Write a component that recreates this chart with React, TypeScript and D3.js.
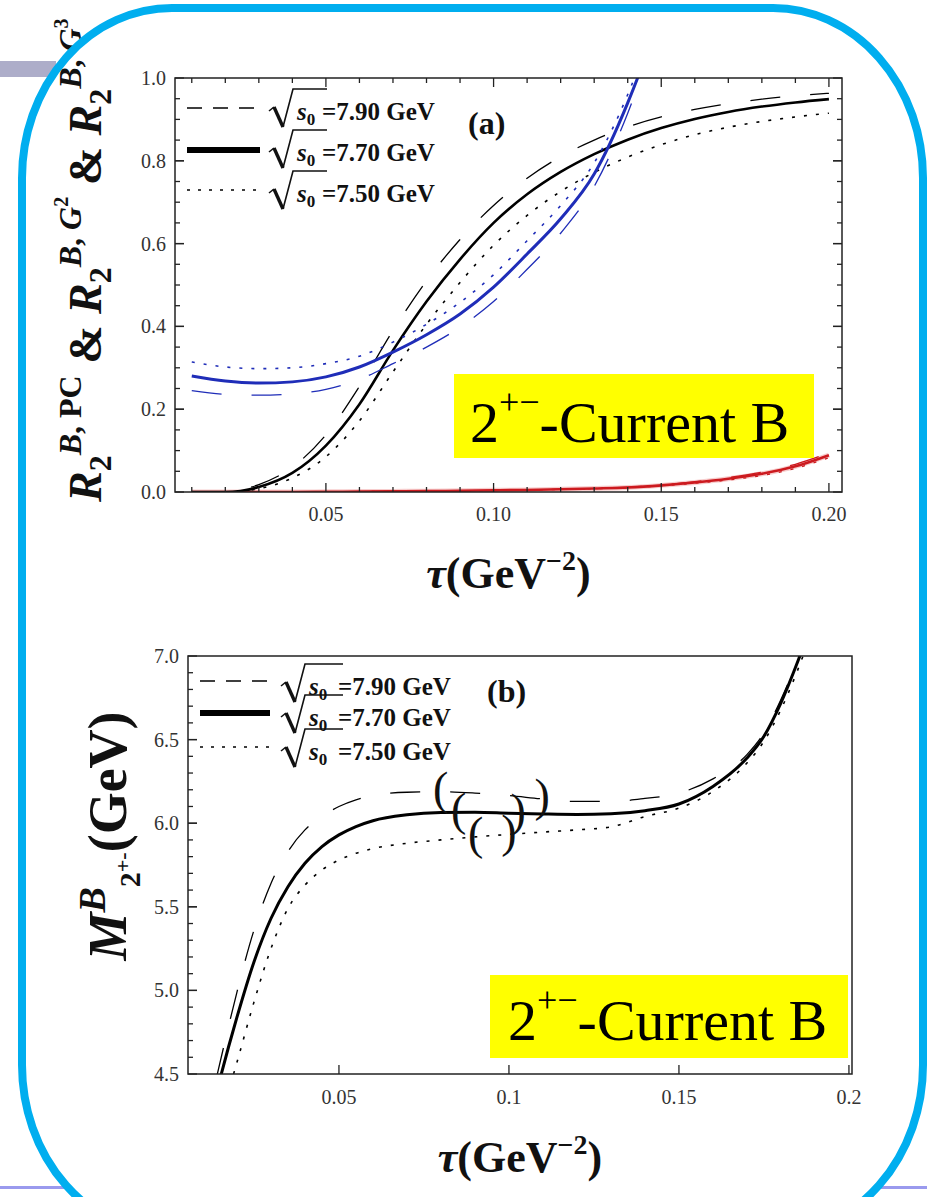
import React from 'react';
import * as d3 from 'd3';

const FONT = "'Liberation Serif', 'Times New Roman', serif";

// ---------- panel (a): ratios vs tau ----------
const tauPC = [0.01, 0.02, 0.03, 0.04, 0.05, 0.06, 0.07, 0.08, 0.09, 0.10, 0.11, 0.12, 0.13, 0.14, 0.15, 0.16, 0.17, 0.18, 0.19, 0.20];
const pcS790 = [0.000, 0.000, 0.018, 0.060, 0.138, 0.255, 0.390, 0.510, 0.610, 0.692, 0.758, 0.810, 0.850, 0.882, 0.906, 0.924, 0.938, 0.949, 0.957, 0.963];
const pcS770 = [0.000, 0.000, 0.012, 0.046, 0.112, 0.212, 0.342, 0.460, 0.562, 0.650, 0.719, 0.773, 0.816, 0.851, 0.879, 0.901, 0.918, 0.931, 0.941, 0.949];
const pcS750 = [0.000, 0.000, 0.008, 0.034, 0.085, 0.172, 0.290, 0.405, 0.506, 0.596, 0.668, 0.726, 0.772, 0.809, 0.839, 0.863, 0.881, 0.895, 0.906, 0.915];

const tauG2 = [0.01, 0.02, 0.03, 0.04, 0.05, 0.06, 0.07, 0.08, 0.09, 0.10, 0.11, 0.12, 0.13, 0.14, 0.145, 0.15];
const g2S790 = [0.245, 0.236, 0.234, 0.237, 0.248, 0.272, 0.310, 0.350, 0.398, 0.460, 0.538, 0.625, 0.738, 0.915, 1.025, 1.150];
const g2S770 = [0.280, 0.268, 0.263, 0.266, 0.278, 0.302, 0.338, 0.380, 0.430, 0.495, 0.575, 0.660, 0.768, 0.940, 1.045, 1.170];
const g2S750 = [0.314, 0.302, 0.298, 0.300, 0.310, 0.328, 0.362, 0.405, 0.458, 0.525, 0.607, 0.692, 0.795, 0.960, 1.065, 1.190];

const tauG3 = [0.01, 0.02, 0.03, 0.04, 0.05, 0.06, 0.07, 0.08, 0.09, 0.10, 0.11, 0.12, 0.13, 0.14, 0.15, 0.16, 0.17, 0.18, 0.19, 0.20];
const g3S790 = [0, 0, 0, 0, 0.0005, 0.001, 0.0015, 0.002, 0.003, 0.0045, 0.0055, 0.007, 0.009, 0.012, 0.017, 0.025, 0.035, 0.048, 0.067, 0.094];
const g3S770 = [0, 0, 0, 0, 0.0005, 0.001, 0.0015, 0.002, 0.003, 0.004, 0.005, 0.0065, 0.0085, 0.011, 0.016, 0.023, 0.032, 0.044, 0.062, 0.089];
const g3S750 = [0, 0, 0, 0, 0.0005, 0.001, 0.0015, 0.002, 0.0025, 0.0035, 0.0045, 0.006, 0.008, 0.010, 0.015, 0.021, 0.029, 0.040, 0.057, 0.083];

const xTicksA = [0.05, 0.10, 0.15, 0.20];
const xTickLabelsA = ['0.05', '0.10', '0.15', '0.20'];
const yTicksA = [0.0, 0.2, 0.4, 0.6, 0.8, 1.0];
const yTickLabelsA = ['0.0', '0.2', '0.4', '0.6', '0.8', '1.0'];

// ---------- panel (b): mass vs tau ----------
const tauM790 = [0.014, 0.017, 0.02, 0.025, 0.03, 0.035, 0.04, 0.045, 0.05, 0.055, 0.06, 0.07, 0.08, 0.09, 0.10, 0.11, 0.12, 0.13, 0.14, 0.15, 0.16, 0.17, 0.175, 0.18, 0.185, 0.19];
const mS790 = [4.48, 4.74, 4.99, 5.36, 5.64, 5.83, 5.96, 6.04, 6.10, 6.14, 6.165, 6.185, 6.188, 6.18, 6.165, 6.145, 6.13, 6.13, 6.148, 6.18, 6.265, 6.41, 6.54, 6.74, 6.98, 7.26];
const tauM770 = [0.015, 0.0175, 0.02, 0.025, 0.03, 0.035, 0.04, 0.045, 0.05, 0.055, 0.06, 0.07, 0.08, 0.09, 0.10, 0.11, 0.12, 0.13, 0.14, 0.15, 0.16, 0.17, 0.175, 0.18, 0.185, 0.19];
const mS770 = [4.47, 4.66, 4.84, 5.17, 5.43, 5.62, 5.76, 5.86, 5.93, 5.98, 6.015, 6.05, 6.064, 6.066, 6.060, 6.055, 6.052, 6.056, 6.075, 6.115, 6.22, 6.39, 6.52, 6.72, 6.97, 7.25];
const tauM750 = [0.019, 0.02, 0.025, 0.03, 0.035, 0.04, 0.045, 0.05, 0.055, 0.06, 0.07, 0.08, 0.09, 0.10, 0.11, 0.12, 0.13, 0.14, 0.15, 0.16, 0.17, 0.175, 0.18, 0.185, 0.19];
const mS750 = [4.50, 4.57, 4.93, 5.25, 5.49, 5.63, 5.72, 5.78, 5.82, 5.848, 5.88, 5.90, 5.918, 5.933, 5.947, 5.96, 5.978, 6.04, 6.09, 6.19, 6.36, 6.49, 6.68, 6.92, 7.20];

// Borel windows marked with parentheses (s0 = 7.90, 7.70, 7.50)
const windowLeft = [0.0799, 0.0852, 0.0902];
const windowRight = [0.1098, 0.1027, 0.1000];

const xTicksB = [0.05, 0.1, 0.15, 0.2];
const xTickLabelsB = ['0.05', '0.1', '0.15', '0.2'];
const yTicksB = [4.5, 5.0, 5.5, 6.0, 6.5, 7.0];
const yTickLabelsB = ['4.5', '5.0', '5.5', '6.0', '6.5', '7.0'];

const s0Labels = ['7.90', '7.70', '7.50'];

// ---------- geometry ----------
const xA = d3.scaleLinear().domain([0.005, 0.2039]).range([175, 842]);
const yA = d3.scaleLinear().domain([0, 1]).range([492, 78]);
const xB = d3.scaleLinear().domain([0.0056, 0.2009]).range([188, 852]);
const yB = d3.scaleLinear().domain([4.5, 7.0]).range([1074, 656]);

const BLUE = '#1f2db8';
const RED = '#cc1a1f';

type Style = { width: number; dash?: string };
const curveStyles: Style[] = [
  { width: 1.3, dash: '30 30' },
  { width: 2.6 },
  { width: 1.6, dash: '3 9' },
];
const legendStyles: Style[] = [
  { width: 1.3, dash: '15 11' },
  { width: 6 },
  { width: 1.6, dash: '3 8' },
];

function pathFor(xs: number[], ys: number[], sx: d3.ScaleLinear<number, number>, sy: d3.ScaleLinear<number, number>) {
  const line = d3
    .line<number>()
    .x((_, i) => sx(xs[i]))
    .y((d) => sy(d))
    .curve(d3.curveMonotoneX);
  return line(ys) || '';
}

function range(a: number, b: number, step: number) {
  const out: number[] = [];
  for (let v = a; v <= b + step / 1000; v += step) out.push(+v.toFixed(4));
  return out;
}

function Radical({ x0, b, xe }: { x0: number; b: number; xe: number }) {
  return (
    <g stroke="#111" fill="none" strokeLinejoin="miter">
      <path d={`M${x0},${b - 9} L${x0 + 5},${b - 13}`} strokeWidth={1.6} />
      <path d={`M${x0 + 5},${b - 13} L${x0 + 14},${b + 7}`} strokeWidth={3.4} />
      <path d={`M${x0 + 14},${b + 7} L${x0 + 24},${b - 31} L${xe},${b - 31}`} strokeWidth={1.6} />
    </g>
  );
}

function Legend({ lx0, lx1, lineY, baseY, radX, overEnd, sX, eqX }: {
  lx0: number; lx1: number; lineY: number[]; baseY: number[]; radX: number; overEnd: number; sX: number; eqX: number;
}) {
  return (
    <g>
      {s0Labels.map((lab, i) => (
        <g key={lab}>
          <line x1={lx0} x2={lx1} y1={lineY[i]} y2={lineY[i]} stroke="#000"
            strokeWidth={legendStyles[i].width} strokeDasharray={legendStyles[i].dash} />
          <Radical x0={radX} b={baseY[i]} xe={overEnd} />
          <text x={sX} y={baseY[i]} fontFamily={FONT} fontWeight="bold" fontSize={25} fill="#111">
            <tspan fontStyle="italic">s</tspan>
            <tspan fontSize={17} dy={5}>0</tspan>
          </text>
          <text x={eqX} y={baseY[i]} fontFamily={FONT} fontWeight="bold" fontSize={25} fill="#111">
            {`=${lab} GeV`}
          </text>
        </g>
      ))}
    </g>
  );
}

function TauTitle({ cx, y }: { cx: number; y: number }) {
  return (
    <text x={cx} y={y} textAnchor="middle" fontFamily={FONT} fontWeight="bold" fontSize={44} fill="#111">
      <tspan fontStyle="italic">τ</tspan>
      <tspan>(GeV</tspan>
      <tspan fontSize={28} dy={-18}>−2</tspan>
      <tspan dy={18}>)</tspan>
    </text>
  );
}

function CurrentTag({ x, y, w, h, tx, ty }: { x: number; y: number; w: number; h: number; tx: number; ty: number }) {
  return (
    <g>
      <rect x={x} y={y} width={w} height={h} fill="#ffff00" />
      <text x={tx} y={ty} fontFamily="Liberation Serif" fontSize={58} fill="#000">
        <tspan>2</tspan>
        <tspan fontSize={36} dy={-28}>+−</tspan>
        <tspan dy={28}>-Current B</tspan>
      </text>
    </g>
  );
}

function PanelA() {
  const [x0, x1] = xA.range();
  const [y0, y1] = yA.range();
  const minorX = range(0.01, 0.20, 0.01);
  const minorY = range(0.05, 0.95, 0.05);
  const pcSeries = [pcS790, pcS770, pcS750];
  const g2Series = [g2S790, g2S770, g2S750];
  const g3Series = [g3S790, g3S770, g3S750];
  return (
    <g>
      <defs>
        <clipPath id="clipA">
          <rect x={x0} y={y1} width={x1 - x0} height={y0 - y1} />
        </clipPath>
      </defs>
      <g clipPath="url(#clipA)" fill="none" strokeLinecap="butt">
        <path d={pathFor(tauG3, g3S770, xA, yA)} stroke="#e87070" strokeWidth={5} opacity={0.35} />
        {g3Series.map((s, i) => (
          <path key={'r' + i} d={pathFor(tauG3, s, xA, yA)} stroke={RED}
            strokeWidth={i === 1 ? 2.6 : 1.3} strokeDasharray={curveStyles[i].dash} />
        ))}
        {pcSeries.map((s, i) => (
          <path key={'k' + i} d={pathFor(tauPC, s, xA, yA)} stroke="#000"
            strokeWidth={curveStyles[i].width} strokeDasharray={curveStyles[i].dash} />
        ))}
        {g2Series.map((s, i) => (
          <path key={'b' + i} d={pathFor(tauG2, s, xA, yA)} stroke={BLUE}
            strokeWidth={i === 1 ? 3 : curveStyles[i].width} strokeDasharray={curveStyles[i].dash} />
        ))}
      </g>
      {/* ticks on all four sides, pointing inward */}
      <g stroke="#222" strokeWidth={1.3}>
        {minorX.map((t) => {
          const major = xTicksA.some((m) => Math.abs(m - t) < 1e-6);
          const len = major ? 9 : 5;
          return (
            <g key={'tx' + t}>
              <line x1={xA(t)} x2={xA(t)} y1={y0} y2={y0 - len} />
              <line x1={xA(t)} x2={xA(t)} y1={y1} y2={y1 + len} />
            </g>
          );
        })}
        {minorY.concat(yTicksA).map((t) => {
          const major = yTicksA.some((m) => Math.abs(m - t) < 1e-6);
          const len = major ? 9 : 5;
          return (
            <g key={'ty' + t}>
              <line x1={x0} x2={x0 + len} y1={yA(t)} y2={yA(t)} />
              <line x1={x1} x2={x1 - len} y1={yA(t)} y2={yA(t)} />
            </g>
          );
        })}
      </g>
      <rect x={x0} y={y1} width={x1 - x0} height={y0 - y1} fill="none" stroke="#222" strokeWidth={1.5} />
      <g fontFamily={FONT} fontSize={20} fill="#333">
        {xTicksA.map((t, i) => (
          <text key={'lx' + t} x={xA(t)} y={521} textAnchor="middle">{xTickLabelsA[i]}</text>
        ))}
        {yTicksA.map((t, i) => (
          <text key={'ly' + t} x={166} y={yA(t) + 7} textAnchor="end">{yTickLabelsA[i]}</text>
        ))}
      </g>
      <TauTitle cx={(x0 + x1) / 2} y={588} />
      {/* y-axis title */}
      <text transform="translate(101,502) rotate(-90)" fontFamily={FONT} fontWeight="bold" fontSize={46} fill="#111">
        <tspan fontStyle="italic">R</tspan>
        <tspan fontSize={32} dy={10}>2</tspan>
        <tspan fontSize={32} fontStyle="italic" dy={-30}>B</tspan>
        <tspan fontSize={32}>, PC</tspan>
        <tspan dy={20}> &amp; </tspan>
        <tspan fontStyle="italic">R</tspan>
        <tspan fontSize={32} dy={10}>2</tspan>
        <tspan fontSize={32} fontStyle="italic" dy={-30}>B</tspan>
        <tspan fontSize={32}>, </tspan>
        <tspan fontSize={32} fontStyle="italic">G</tspan>
        <tspan fontSize={20} dy={-13}>2</tspan>
        <tspan dy={33}> &amp; </tspan>
        <tspan fontStyle="italic">R</tspan>
        <tspan fontSize={32} dy={10}>2</tspan>
        <tspan fontSize={32} fontStyle="italic" dy={-30}>B</tspan>
        <tspan fontSize={32}>, </tspan>
        <tspan fontSize={32} fontStyle="italic">G</tspan>
        <tspan fontSize={20} dy={-13}>3</tspan>
      </text>
      <Legend lx0={187} lx1={260} lineY={[108, 150, 190]} baseY={[120, 161, 202]}
        radX={269} overEnd={327} sX={297} eqX={322} />
      <text x={468} y={134} fontFamily={FONT} fontWeight="bold" fontSize={32} fill="#111">(a)</text>
      <CurrentTag x={454} y={374} w={360} h={84} tx={470} ty={442} />
    </g>
  );
}

function PanelB() {
  const [x0, x1] = xB.range();
  const [y0, y1] = yB.range();
  const minorY = range(4.6, 6.9, 0.1);
  const taus = [tauM790, tauM770, tauM750];
  const masses = [mS790, mS770, mS750];
  return (
    <g>
      <defs>
        <clipPath id="clipB">
          <rect x={x0} y={y1} width={x1 - x0} height={y0 - y1} />
        </clipPath>
      </defs>
      <g clipPath="url(#clipB)" fill="none">
        {masses.map((m, i) => (
          <path key={'m' + i} d={pathFor(taus[i], m, xB, yB)} stroke="#000"
            strokeWidth={i === 1 ? 3 : curveStyles[i].width} strokeDasharray={curveStyles[i].dash} />
        ))}
      </g>
      {/* parentheses marking each Borel window */}
      <g fontFamily={FONT} fontSize={46} fill="#111">
        {masses.map((m, i) => {
          const interp = d3.scaleLinear().domain(taus[i]).range(m);
          const tl = windowLeft[i];
          const tr = windowRight[i];
          return (
            <g key={'p' + i}>
              <text x={xB(tl)} y={yB(interp(tl))} dy="0.27em" textAnchor="middle">(</text>
              <text x={xB(tr)} y={yB(interp(tr))} dy="0.27em" textAnchor="middle">)</text>
            </g>
          );
        })}
      </g>
      <g stroke="#222" strokeWidth={1.3}>
        {xTicksB.map((t) => (
          <line key={'tx' + t} x1={xB(t)} x2={xB(t)} y1={y0} y2={y0 - 9} />
        ))}
        {minorY.concat(yTicksB).map((t) => {
          const major = yTicksB.some((m) => Math.abs(m - t) < 1e-6);
          return <line key={'ty' + t} x1={x0} x2={x0 + (major ? 9 : 5)} y1={yB(t)} y2={yB(t)} />;
        })}
      </g>
      <rect x={x0} y={y1} width={x1 - x0} height={y0 - y1} fill="none" stroke="#222" strokeWidth={1.5} />
      <g fontFamily={FONT} fontSize={20} fill="#333">
        {xTicksB.map((t, i) => (
          <text key={'lx' + t} x={xB(t)} y={1104} textAnchor="middle">{xTickLabelsB[i]}</text>
        ))}
        {yTicksB.map((t, i) => (
          <text key={'ly' + t} x={179} y={yB(t) + 7} textAnchor="end">{yTickLabelsB[i]}</text>
        ))}
      </g>
      <TauTitle cx={(x0 + x1) / 2} y={1172} />
      <text transform="translate(126,836) rotate(-90)" textAnchor="middle" fontFamily={FONT} fontWeight="bold" fontSize={54} fill="#111">
        <tspan fontStyle="italic">M</tspan>
        <tspan fontSize={38} fontStyle="italic" dy={-21}>B</tspan>
        <tspan fontSize={30} dy={35}>2</tspan>
        <tspan fontSize={22} dy={-10}>+-</tspan>
        <tspan dy={-4}>(GeV)</tspan>
      </text>
      <Legend lx0={200} lx1={270} lineY={[681, 713, 747]} baseY={[695, 726, 760]}
        radX={281} overEnd={343} sX={309} eqX={338} />
      <text x={487} y={702} fontFamily={FONT} fontWeight="bold" fontSize={32} fill="#111">(b)</text>
      <CurrentTag x={490} y={975} w={358} h={83} tx={508} ty={1040} />
    </g>
  );
}

export default function App() {
  return (
    <svg width={927} height={1197} viewBox="0 0 927 1197"
      style={{ position: 'absolute', left: 0, top: 0, background: '#fff' }}>
      <rect x={0} y={0} width={927} height={1197} fill="#fff" />
      {/* slide decorations */}
      <rect x={0} y={61} width={56} height={16} fill="#adadc9" />
      <rect x={0} y={1186} width={70} height={3} fill="#9a9aee" />
      <rect x={880} y={1186} width={47} height={3} fill="#9a9aee" />
      <PanelA />
      <PanelB />
      <rect x={22} y={8} width={901} height={1227} rx={150} ry={170} fill="none" stroke="#00aeef" strokeWidth={8} />
    </svg>
  );
}
